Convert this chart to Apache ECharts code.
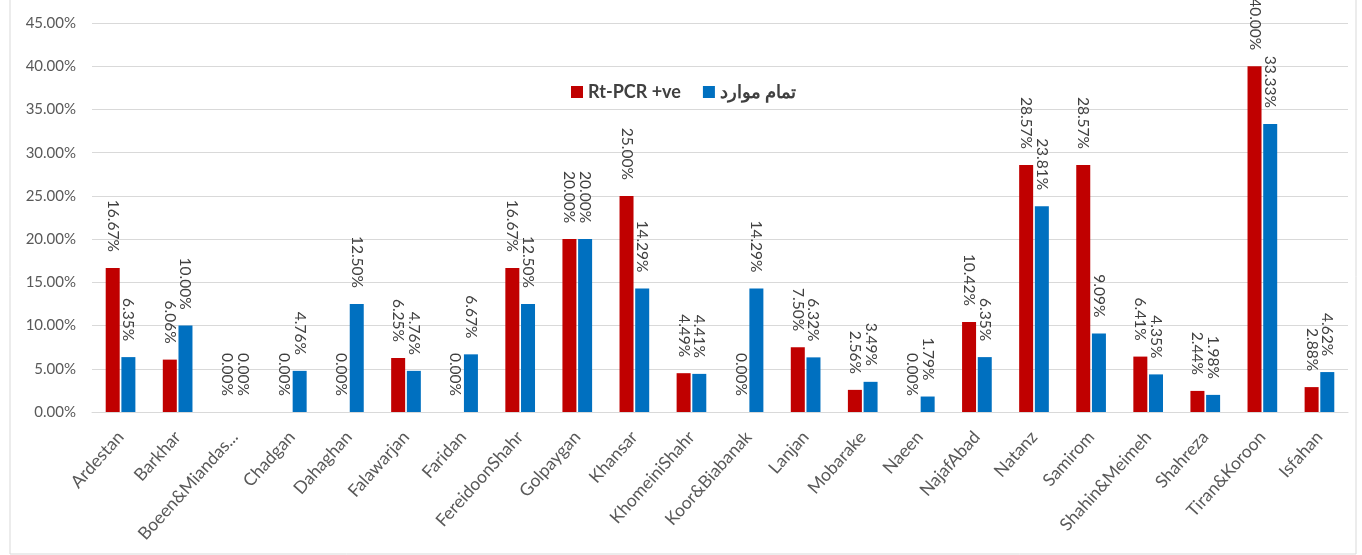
<!DOCTYPE html>
<html>
<head>
<meta charset="utf-8">
<script src="https://cdn.jsdelivr.net/npm/echarts@6/dist/echarts.min.js"></script>
<style>
  html, body { margin: 0; padding: 0; background: #fff; }
  #box { width: 1362px; height: 555px; }
</style>
</head>
<body>
<div id="box"></div>
<script>
const categories = ['Ardestan', 'Barkhar', 'Boeen&Miandas...', 'Chadgan', 'Dahaghan', 'Falawarjan', 'Faridan',
  'FereidoonShahr', 'Golpaygan', 'Khansar', 'KhomeiniShahr', 'Koor&Biabanak', 'Lanjan', 'Mobarake', 'Naeen',
  'NajafAbad', 'Natanz', 'Samirom', 'Shahin&Meimeh', 'Shahreza', 'Tiran&Koroon', 'Isfahan'];
const pcrPositive = [16.67, 6.06, 0, 0, 0, 6.25, 0, 16.67, 20.00, 25.00, 4.49, 0, 7.50, 2.56, 0, 10.42, 28.57, 28.57, 6.41, 2.44, 40.00, 2.88];
const allCases = [6.35, 10.00, 0, 4.76, 12.50, 4.76, 6.67, 12.50, 20.00, 14.29, 4.41, 14.29, 6.32, 3.49, 1.79, 6.35, 23.81, 9.09, 4.35, 1.98, 33.33, 4.62];

let myecharts = echarts.init(document.getElementById('box'));
const fontFamily = 'Lato, "Open Sans", sans-serif';
// labels sit above each bar, turned to read top-down
const barLabel = {
  show: true,
  position: 'top',
  rotate: -90,
  align: 'right',
  verticalAlign: 'middle',
  distance: 16,
  color: '#404040',
  fontSize: 15.5,
  fontFamily: fontFamily,
  formatter: (p) => p.value.toFixed(2) + '%'
};
let options = {
  animation: false,
  graphic: [{
    type: 'rect',
    shape: { x: 10, y: -2, width: 1346, height: 556 },
    style: { fill: 'none', stroke: '#d9d9d9', lineWidth: 1 }
  }],
  legend: {
    top: 78,
    left: 566,
    itemWidth: 12,
    itemHeight: 12,
    itemGap: 22,
    icon: 'rect',
    textStyle: { fontSize: 18, fontWeight: 'bold', color: '#404040', fontFamily: fontFamily }
  },
  grid: { left: 92, right: 14, top: 23, bottom: 143 },
  xAxis: {
    type: 'category',
    data: categories,
    axisTick: { show: false },
    axisLine: { lineStyle: { color: '#d9d9d9' } },
    axisLabel: {
      interval: 0,
      rotate: 48,
      color: '#595959',
      fontSize: 17.5,
      fontFamily: fontFamily,
      margin: 22
    }
  },
  yAxis: {
    type: 'value',
    min: 0,
    max: 45,
    interval: 5,
    axisLine: { show: false },
    axisTick: { show: false },
    splitLine: { lineStyle: { color: '#d9d9d9' } },
    axisLabel: {
      color: '#595959',
      fontSize: 15,
      fontFamily: fontFamily,
      margin: 16,
      formatter: (v) => v.toFixed(2) + '%'
    }
  },
  series: [
    {
      name: 'Rt-PCR +ve',
      type: 'bar',
      data: pcrPositive,
      barWidth: 14,
      barGap: '12%',
      itemStyle: { color: '#C00000' },
      label: barLabel
    },
    {
      name: 'تمام موارد',
      type: 'bar',
      data: allCases,
      barWidth: 14,
      barGap: '12%',
      itemStyle: { color: '#0070C0' },
      label: barLabel
    }
  ]
};
myecharts.setOption(options);
window.onresize = function () {
  myecharts.resize();
};
</script>
</body>
</html>
